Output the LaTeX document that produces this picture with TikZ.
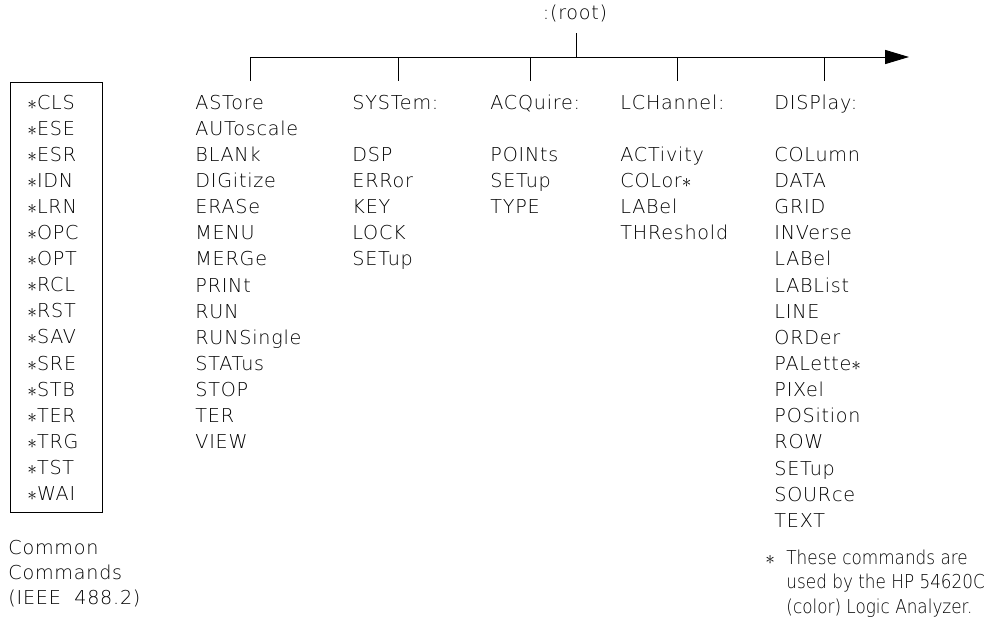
\documentclass[tikz,border=0pt]{standalone}
\usepackage{fontspec}
\setmainfont{DejaVu Sans ExtraLight}[LetterSpace=4]
\usetikzlibrary{arrows.meta}

\newcommand{\cstar}{$\ast$}
\newcommand{\narrow}[1]{\scalebox{0.88}[1]{#1}}
\tikzset{cmd/.style={anchor=base west, inner sep=0pt, font=\fontsize{10.9}{13}\selectfont},
    notetext/.style={cmd, font=\fontsize{10.9}{13}\selectfont\addfontfeatures{LetterSpace=0}}}

\begin{document}
\begin{tikzpicture}[x=0.02cm, y=-0.02cm, line width=0.5pt]
    \useasboundingbox (0,0) rectangle (985,626);

    % Wurzel und Zweige
    \node[cmd, anchor=base] (root) at (575,19) {:(root)};
    \coordinate (top) at (576,33);
    \coordinate (trunk) at (576,57);
    \coordinate (start) at (250,57);
    \coordinate (tip) at (909,57);
    \draw (top) -- (trunk);
    \draw[-{Triangle[length=13.6pt,width=8pt]}] (start) -- (tip);
    \foreach \x [count=\i] in {250,398,530,677,824} {
        \coordinate (b\i) at (\x,57);
        \draw (b\i) -- ++(0,24);
    }

    % Common Commands
    \draw (10,82) rectangle (102,512);
    \foreach \c [count=\i from 0] in {CLS,ESE,ESR,IDN,LRN,OPC,OPT,RCL,RST,SAV,SRE,STB,TER,TRG,TST,WAI}
        \node[cmd] (ieee\i) at (27,109+26.1*\i) {\cstar\c};
    \node[cmd] (cc1) at (8,554) {Common};
    \node[cmd] (cc2) at (8,579) {Commands};
    \node[cmd] (cc3) at (8,604) {(IEEE\hspace{0.7em}488.2)};

    % Subsysteme
    \foreach \c [count=\i from 0] in {ASTore,AUToscale,BLANk,DIGitize,ERASe,MENU,MERGe,PRINt,RUN,RUNSingle,STATus,STOP,TER,VIEW}
        \node[cmd] (main\i) at (195,109+26.15*\i) {\c};

    \node[cmd] (sys) at (352,109) {SYSTem:};
    \foreach \c [count=\i from 2] in {DSP,ERRor,KEY,LOCK,SETup}
        \node[cmd] (sys\i) at (352,109+26.15*\i) {\c};

    \node[cmd] (acq) at (490,109) {ACQuire:};
    \foreach \c [count=\i from 2] in {POINts,SETup,TYPE}
        \node[cmd] (acq\i) at (490,109+26.15*\i) {\c};

    \node[cmd] (lch) at (620,109) {LCHannel:};
    \foreach \c [count=\i from 2] in {ACTivity,COLor\cstar,LABel,THReshold}
        \node[cmd] (lch\i) at (620,109+26.15*\i) {\c};

    \node[cmd] (disp) at (774,109) {DISPlay:};
    \foreach \c [count=\i from 2] in {COLumn,DATA,GRID,INVerse,LABel,LABList,LINE,ORDer,PALette\cstar,PIXel,POSition,ROW,SETup,SOURce,TEXT}
        \node[cmd] (disp\i) at (774,109+26.15*\i) {\c};

    % Fussnote
    \node[cmd] (nstar) at (765,564) {\cstar};
    \node[notetext] (note1) at (786,564) {\narrow{These commands are}};
    \node[notetext] (note2) at (786,588) {\narrow{used by the HP 54620C}};
    \node[notetext] (note3) at (786,613) {\narrow{(color) Logic Analyzer.}};
\end{tikzpicture}
\end{document}
